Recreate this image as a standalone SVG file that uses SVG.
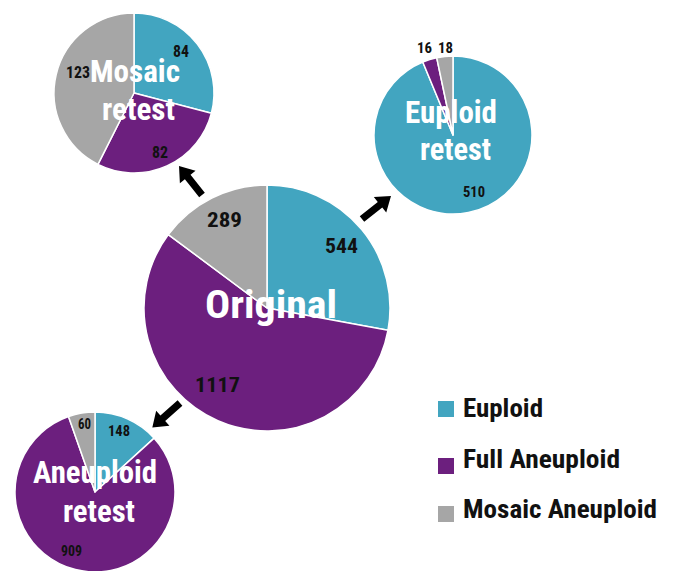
<svg xmlns="http://www.w3.org/2000/svg" width="673" height="571" viewBox="0 0 673 571">
<style>
.eu{fill:#42a5c0}
.fa{fill:#6c1f7e}
.mo{fill:#a6a6a6}
.sl{stroke:#ffffff;stroke-width:1.5;stroke-linejoin:round}
text{font-family:"Roboto Condensed","Liberation Sans Narrow",Roboto,"Liberation Sans",sans-serif;font-weight:bold}
.num{fill:#111111;text-anchor:middle}
.title{fill:#ffffff;text-anchor:middle}
.leg{fill:#111111;font-size:26px}
.arrow{fill:#000000}
</style>
<defs>
<path id="arr" d="M0,-3.6 L23,-3.6 L23,-10 L37,0 L23,10 L23,3.6 L0,3.6 Z"/>
</defs>
<g id="connectors">
<use href="#arr" class="arrow" transform="translate(202,195) rotate(-128.4)"/>
<use href="#arr" class="arrow" transform="translate(362,219) rotate(-38.4)"/>
<use href="#arr" class="arrow" transform="translate(180,403) rotate(138.4)"/>
</g>
<g id="original">
<path class="eu sl" d="M267,308 L267,185 A123,123 0 0 1 387.97,330.27 Z"/>
<path class="fa sl" d="M267,308 L387.97,330.27 A123,123 0 1 1 168.33,234.56 Z"/>
<path class="mo sl" d="M267,308 L168.33,234.56 A123,123 0 0 1 267,185 Z"/>
<text class="num" x="224.5" y="227" font-size="21" textLength="35" lengthAdjust="spacingAndGlyphs">289</text>
<text class="num" x="341.5" y="253" font-size="21" textLength="33" lengthAdjust="spacingAndGlyphs">544</text>
<text class="num" x="217.5" y="392" font-size="21" textLength="45" lengthAdjust="spacingAndGlyphs">1117</text>
<text class="title" x="271" y="318" font-size="39" textLength="132" lengthAdjust="spacingAndGlyphs">Original</text>
</g>
<g id="mosaic-retest">
<path class="eu sl" d="M134,93 L134,13 A80,80 0 0 1 211.40,113.22 Z"/>
<path class="fa sl" d="M134,93 L211.40,113.22 A80,80 0 0 1 97.94,164.41 Z"/>
<path class="mo sl" d="M134,93 L97.94,164.41 A80,80 0 0 1 134,13 Z"/>
<text class="num" x="181" y="57" font-size="16" textLength="16" lengthAdjust="spacingAndGlyphs">84</text>
<text class="num" x="160" y="158" font-size="16" textLength="16" lengthAdjust="spacingAndGlyphs">82</text>
<text class="num" x="78" y="78" font-size="16" textLength="24" lengthAdjust="spacingAndGlyphs">123</text>
<text class="title" x="135" y="82" font-size="31" textLength="90" lengthAdjust="spacingAndGlyphs">Mosaic</text>
<text class="title" x="138.5" y="120" font-size="31" textLength="73" lengthAdjust="spacingAndGlyphs">retest</text>
</g>
<g id="euploid-retest">
<path class="eu sl" d="M453,135 L453,56 A79,79 0 1 1 422.77,62.01 Z"/>
<path class="fa sl" d="M453,135 L422.77,62.01 A79,79 0 0 1 436.70,57.70 Z"/>
<path class="mo sl" d="M453,135 L436.70,57.70 A79,79 0 0 1 453,56 Z"/>
<text class="num" x="424.5" y="53" font-size="14" textLength="15" lengthAdjust="spacingAndGlyphs">16</text>
<text class="num" x="445.5" y="53" font-size="14" textLength="15" lengthAdjust="spacingAndGlyphs">18</text>
<text class="num" x="474" y="197" font-size="15" textLength="22" lengthAdjust="spacingAndGlyphs">510</text>
<text class="title" x="451" y="123" font-size="31" textLength="92" lengthAdjust="spacingAndGlyphs">Euploid</text>
<text class="title" x="455.5" y="160" font-size="31" textLength="71" lengthAdjust="spacingAndGlyphs">retest</text>
</g>
<g id="aneuploid-retest">
<path class="eu sl" d="M95,492 L95,412 A80,80 0 0 1 154.17,438.16 Z"/>
<path class="fa sl" d="M95,492 L154.17,438.16 A80,80 0 1 1 68.51,416.51 Z"/>
<path class="mo sl" d="M95,492 L68.51,416.51 A80,80 0 0 1 95,412 Z"/>
<text class="num" x="119" y="436" font-size="14" textLength="22" lengthAdjust="spacingAndGlyphs">148</text>
<text class="num" x="84.5" y="429" font-size="14" textLength="13" lengthAdjust="spacingAndGlyphs">60</text>
<text class="num" x="71.5" y="556" font-size="14" textLength="21" lengthAdjust="spacingAndGlyphs">909</text>
<text class="title" x="95" y="483" font-size="31" textLength="124" lengthAdjust="spacingAndGlyphs">Aneuploid</text>
<text class="title" x="99" y="522" font-size="31" textLength="72" lengthAdjust="spacingAndGlyphs">retest</text>
</g>
<g id="legend">
<rect class="eu" x="438" y="401" width="16" height="16"/>
<text class="leg" x="463" y="417" textLength="80" lengthAdjust="spacingAndGlyphs">Euploid</text>
<rect class="fa" x="438" y="458" width="16" height="16"/>
<text class="leg" x="463" y="468" textLength="157" lengthAdjust="spacingAndGlyphs">Full Aneuploid</text>
<rect class="mo" x="438" y="506" width="16" height="16"/>
<text class="leg" x="463" y="518" textLength="194" lengthAdjust="spacingAndGlyphs">Mosaic Aneuploid</text>
</g>
</svg>
